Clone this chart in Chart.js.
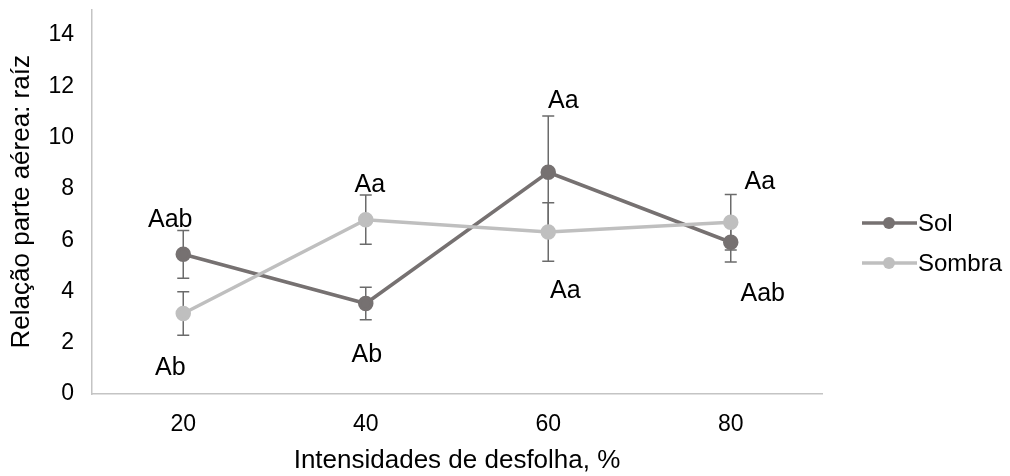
<!DOCTYPE html>
<html>
<head>
<meta charset="utf-8">
<script src="https://cdn.jsdelivr.net/npm/chart.js@4"></script>
<style>
    html, body { margin: 0; padding: 0; background: #fff; }
</style>
</head>
<body>
<canvas id="chart" width="1010" height="476"></canvas>
<script>
// Data
const categories = ['20', '40', '60', '80'];
const solValues = [5.45, 3.53, 8.65, 5.92];
const solErrors = [0.93, 0.63, 2.2, 0.77];
const sombraValues = [3.14, 6.8, 6.32, 6.7];
const sombraErrors = [0.85, 0.96, 1.14, 1.08];
const yTickValues = [0, 2, 4, 6, 8, 10, 12, 14];
const solLetters = ['Aab', 'Ab', 'Aa', 'Aab'];
const sombraLetters = ['Ab', 'Aa', 'Aa', 'Aa'];

const FONT = '"Liberation Sans", Arial, sans-serif';
const solColor = '#767171';
const sombraColor = '#bfbfbf';

// where the letters sit: y in axis units, dx in pixels from the category
const letterPlacement = {
    Sol:    { y: [6.77, 1.52, 11.43, 3.89], dx: [-13, 1, 15, 32] },
    Sombra: { y: [1.01, 8.13, 4.02, 8.26], dx: [-13, 4, 17, 29] }
};

// Error bars under the points
const errorBars = {
    id: 'errorBars',
    beforeDatasetsDraw(chart) {
        const ctx = chart.ctx;
        const y = chart.scales.y;
        ctx.save();
        ctx.strokeStyle = '#6b6b6b';
        ctx.lineWidth = 1.5;
        chart.data.datasets.forEach((ds, i) => {
            const meta = chart.getDatasetMeta(i);
            meta.data.forEach((pt, j) => {
                const v = ds.data[j];
                const e = ds.errors[j];
                const top = y.getPixelForValue(v + e);
                const bot = y.getPixelForValue(v - e);
                ctx.beginPath();
                ctx.moveTo(pt.x, top);
                ctx.lineTo(pt.x, bot);
                ctx.moveTo(pt.x - 6, top);
                ctx.lineTo(pt.x + 6, top);
                ctx.moveTo(pt.x - 6, bot);
                ctx.lineTo(pt.x + 6, bot);
                ctx.stroke();
            });
        });
        ctx.restore();
    }
};

// Significance letters
const letters = {
    id: 'letters',
    afterDatasetsDraw(chart) {
        const ctx = chart.ctx;
        const x = chart.scales.x;
        const y = chart.scales.y;
        ctx.save();
        ctx.font = '25px ' + FONT;
        ctx.fillStyle = '#000';
        ctx.textAlign = 'center';
        ctx.textBaseline = 'middle';
        chart.data.datasets.forEach(ds => {
            const place = letterPlacement[ds.label];
            ds.letters.forEach((txt, j) => {
                ctx.fillText(txt, x.getPixelForValue(j) + place.dx[j], y.getPixelForValue(place.y[j]));
            });
        });
        ctx.restore();
    }
};

// Excel style legend: line with marker
const lineLegend = {
    id: 'lineLegend',
    afterDraw(chart) {
        const ctx = chart.ctx;
        ctx.save();
        ctx.font = '24px ' + FONT;
        ctx.textBaseline = 'middle';
        ctx.textAlign = 'left';
        chart.data.datasets.forEach((ds, i) => {
            const yy = 223 + i * 40;
            ctx.strokeStyle = ds.borderColor;
            ctx.lineWidth = 3.5;
            ctx.beginPath();
            ctx.moveTo(862, yy);
            ctx.lineTo(917, yy);
            ctx.stroke();
            ctx.fillStyle = ds.borderColor;
            ctx.beginPath();
            ctx.arc(889, yy, 6, 0, Math.PI * 2);
            ctx.fill();
            ctx.fillStyle = '#000';
            ctx.fillText(ds.label, 918, yy + 1);
        });
        ctx.restore();
    }
};

const ctx = document.getElementById('chart').getContext('2d');
const chart = new Chart(ctx, {
    type: 'line',
    data: {
        labels: categories,
        datasets: [{
            label: 'Sol',
            data: solValues,
            errors: solErrors,
            letters: solLetters,
            borderColor: solColor,
            backgroundColor: solColor,
            pointBackgroundColor: solColor,
            pointBorderColor: solColor,
            borderWidth: 3.5,
            pointRadius: 6,
            tension: 0,
            order: 1
        }, {
            label: 'Sombra',
            data: sombraValues,
            errors: sombraErrors,
            letters: sombraLetters,
            borderColor: sombraColor,
            backgroundColor: sombraColor,
            pointBackgroundColor: sombraColor,
            pointBorderColor: sombraColor,
            borderWidth: 3.5,
            pointRadius: 6,
            tension: 0,
            order: 0
        }]
    },
    options: {
        responsive: false,
        animation: false,
        devicePixelRatio: 1,
        layout: {
            padding: { top: 8, right: 188, bottom: 0, left: 0 }
        },
        plugins: {
            legend: { display: false },
            tooltip: { enabled: false }
        },
        scales: {
            x: {
                offset: true,
                grid: { display: false, drawTicks: false },
                border: { display: true, color: '#c4c4c4', width: 1.5 },
                ticks: {
                    color: '#000',
                    font: { family: FONT, size: 23 },
                    padding: 17
                },
                title: {
                    display: true,
                    text: 'Intensidades de desfolha, %',
                    color: '#000',
                    font: { family: FONT, size: 26 },
                    padding: { top: 0, bottom: 0 }
                },
                afterFit: function(s) {
                    s.height = 82;
                    s.paddingLeft = 0;
                    s.paddingRight = 0;
                }
            },
            y: {
                min: 0,
                max: 15,
                grid: { display: false, drawTicks: false },
                border: { display: true, color: '#c4c4c4', width: 1.5 },
                ticks: {
                    stepSize: 2,
                    color: '#000',
                    font: { family: FONT, size: 23 },
                    padding: 18
                },
                afterBuildTicks: function(s) {
                    s.ticks = yTickValues.map(v => ({ value: v }));
                },
                title: {
                    display: true,
                    text: 'Relação parte aérea: raíz',
                    color: '#000',
                    font: { family: FONT, size: 26 },
                    padding: { top: 6, bottom: 0 }
                },
                afterFit: function(s) {
                    s.width = 92;
                    s.paddingTop = 0;
                    s.paddingBottom = 0;
                }
            }
        }
    },
    plugins: [errorBars, letters, lineLegend]
});
</script>
</body>
</html>
